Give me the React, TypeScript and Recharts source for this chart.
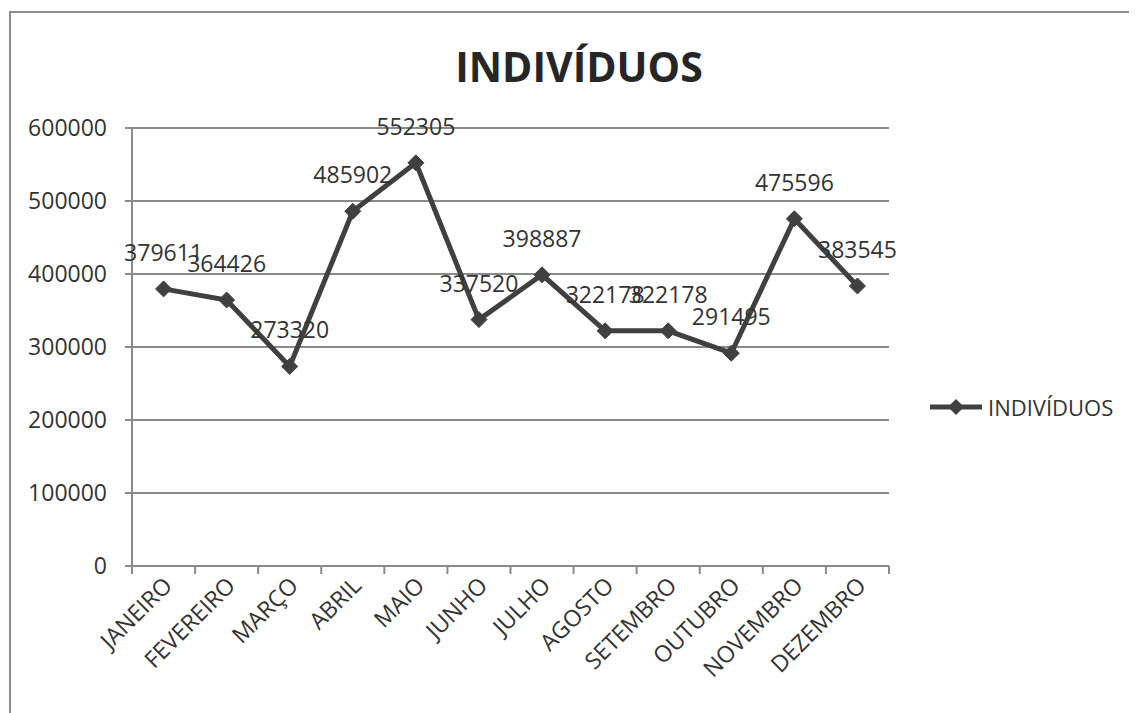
import { JSX } from "react";
import {
  LineChart,
  Line,
  XAxis,
  YAxis,
  CartesianGrid,
  LabelList,
} from "recharts";

const MONTHS = [
  "JANEIRO",
  "FEVEREIRO",
  "MARÇO",
  "ABRIL",
  "MAIO",
  "JUNHO",
  "JULHO",
  "AGOSTO",
  "SETEMBRO",
  "OUTUBRO",
  "NOVEMBRO",
  "DEZEMBRO",
];

const INDIVIDUOS = [
  379611, 364426, 273320, 485902, 552305, 337520, 398887, 322178, 322178,
  291495, 475596, 383545,
];

const Y_TICKS = [0, 100000, 200000, 300000, 400000, 500000, 600000];

const SERIES_NAME = "INDIVÍDUOS";

const data = MONTHS.map((month, i) => ({ month, value: INDIVIDUOS[i] }));

const FONT = "'Open Sans', 'DejaVu Sans', sans-serif";
const TEXT_COLOR = "#333333";
const LINE_COLOR = "#404040";
const GRID_COLOR = "#8a8a8a";

const WIDTH = 1129;
const HEIGHT = 705;
const MARGIN = { top: 120, right: 248, bottom: 27, left: 24 };
const Y_AXIS_WIDTH = 100;
const PLOT_WIDTH = WIDTH - MARGIN.left - MARGIN.right - Y_AXIS_WIDTH;
const HALF_BAND = PLOT_WIDTH / MONTHS.length / 2;

type DotProps = { cx?: number; cy?: number; index?: number };

function Diamond({ cx, cy, index }: DotProps): JSX.Element | null {
  if (cx == null || cy == null) return null;
  const r = 8;
  return (
    <polygon
      key={`d-${index}`}
      points={`${cx},${cy - r} ${cx + r},${cy} ${cx},${cy + r} ${cx - r},${cy}`}
      fill={LINE_COLOR}
      stroke={LINE_COLOR}
    />
  );
}

type TickProps = {
  x?: number;
  y?: number;
  index?: number;
  payload?: { value: string };
};

function MonthTick({ x = 0, y = 0, index = 0, payload }: TickProps): JSX.Element {
  const axisY = y - 8;
  const isLast = index === MONTHS.length - 1;
  const tx = x + 10;
  const ty = axisY + 21;
  return (
    <g>
      <line
        x1={x - HALF_BAND}
        x2={x - HALF_BAND}
        y1={axisY}
        y2={axisY + 8}
        stroke={GRID_COLOR}
        strokeWidth={2}
      />
      {isLast && (
        <line
          x1={x + HALF_BAND}
          x2={x + HALF_BAND}
          y1={axisY}
          y2={axisY + 8}
          stroke={GRID_COLOR}
          strokeWidth={2}
        />
      )}
      <text
        x={tx}
        y={ty}
        textAnchor="end"
        transform={`rotate(-45, ${tx}, ${ty})`}
        fontSize={23}
        fontFamily={FONT}
        fill={TEXT_COLOR}
      >
        {payload?.value}
      </text>
    </g>
  );
}

export default function App(): JSX.Element {
  return (
    <div style={{ position: "relative", width: WIDTH, height: HEIGHT }}>
      <div
        style={{
          position: "absolute",
          left: 1,
          top: 3,
          width: WIDTH + 20,
          height: HEIGHT,
          borderTop: "2px solid #8c8c8c",
          borderLeft: "2px solid #8c8c8c",
          boxSizing: "border-box",
        }}
      />
      <div
        style={{
          position: "absolute",
          left: 0,
          width: 1142,
          top: 30,
          textAlign: "center",
          fontFamily: FONT,
          fontWeight: 700,
          fontSize: 41,
          color: "#262626",
        }}
      >
        INDIVÍDUOS
      </div>
      <div
        style={{
          position: "absolute",
          left: 920,
          top: 384,
          display: "flex",
          alignItems: "center",
          fontFamily: FONT,
          fontSize: 22,
          color: TEXT_COLOR,
        }}
      >
        <svg width={56} height={20}>
          <line x1={2} x2={54} y1={10} y2={10} stroke={LINE_COLOR} strokeWidth={5} />
          <polygon points="28,2 36,10 28,18 20,10" fill={LINE_COLOR} />
        </svg>
        <span style={{ marginLeft: 4 }}>{SERIES_NAME}</span>
      </div>
      <div style={{ position: "absolute", left: 0, top: 0 }}>
        <LineChart width={WIDTH} height={HEIGHT} data={data} margin={MARGIN}>
          <CartesianGrid
            vertical={false}
            stroke={GRID_COLOR}
            strokeWidth={2}
          />
          <XAxis
            dataKey="month"
            interval={0}
            height={120}
            padding={{ left: HALF_BAND, right: HALF_BAND }}
            tickLine={false}
            axisLine={{ stroke: GRID_COLOR, strokeWidth: 2 }}
            tick={<MonthTick />}
          />
          <YAxis
            width={Y_AXIS_WIDTH}
            domain={[0, 600000]}
            ticks={Y_TICKS}
            interval={0}
            tickSize={7}
            tickMargin={18}
            axisLine={{ stroke: GRID_COLOR, strokeWidth: 2 }}
            tickLine={{ stroke: GRID_COLOR, strokeWidth: 2 }}
            tick={{ fontSize: 23, fontFamily: FONT, fill: TEXT_COLOR }}
          />
          <Line
            type="linear"
            dataKey="value"
            name={SERIES_NAME}
            stroke={LINE_COLOR}
            strokeWidth={5}
            dot={<Diamond />}
            activeDot={false}
            isAnimationActive={false}
          >
            <LabelList
              dataKey="value"
              position="top"
              offset={28}
              fontSize={23}
              fontFamily={FONT}
              fill={TEXT_COLOR}
            />
          </Line>
        </LineChart>
      </div>
    </div>
  );
}
